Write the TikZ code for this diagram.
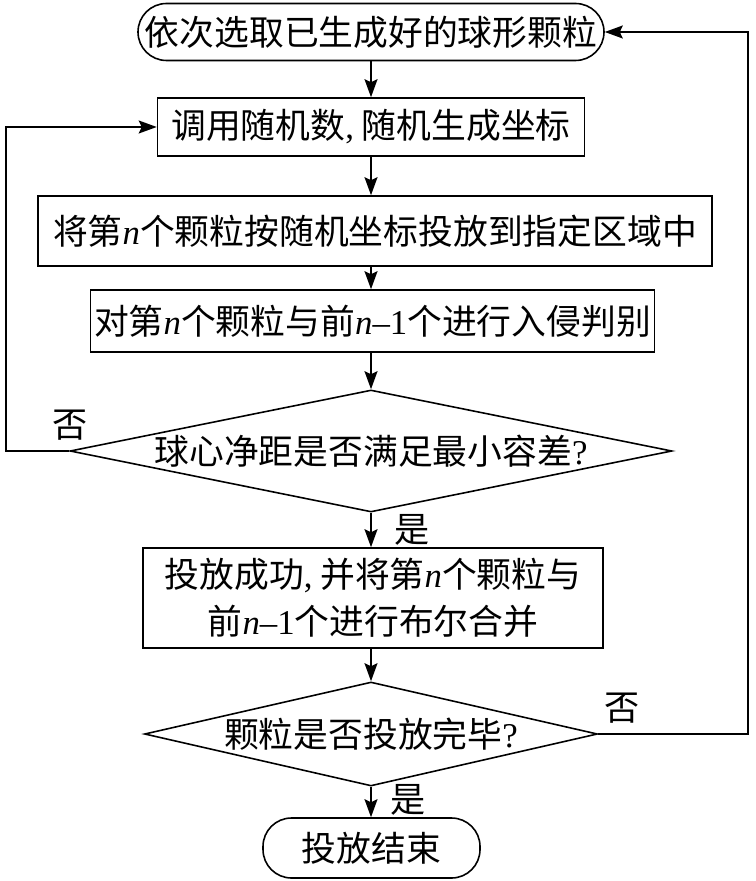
\documentclass[tikz,border=0pt]{standalone}
\usepackage{fontspec}
\setmainfont{Noto Sans CJK SC}
\newfontfamily\latinfont{Liberation Serif}
\usetikzlibrary{shapes.geometric,arrows.meta}
\newcommand{\vn}{{\latinfont\itshape n}}
\newcommand{\lt}[1]{{\latinfont #1}}
\tikzset{
  box/.style={draw,line width=0.9pt,minimum height=1.16cm,inner sep=2pt},
  term/.style={box,rounded corners=0.57cm},
  cond/.style={draw,line width=0.9pt,diamond,aspect=4.9,inner sep=0pt},
  flow/.style={line width=0.9pt,-{Stealth[length=3.6mm,width=2.6mm,inset=0.6mm]}},
  lab/.style={font=\fontsize{20}{24}\selectfont}
}
\begin{document}
\begin{tikzpicture}[font=\fontsize{19.8}{27}\selectfont]
\useasboundingbox (0,0) rectangle (15.1,-17.62);
\node[term,minimum width=9.32cm,minimum height=1.14cm](start)at(7.42,-0.64){依次选取已生成好的球形颗粒};
\node[box,minimum width=8.54cm](coord)at(7.42,-2.54){调用随机数\lt{,} 随机生成坐标};
\node[box,minimum width=13.48cm,minimum height=1.4cm](place)at(7.5,-4.62){将第\vn 个颗粒按随机坐标投放到指定区域中};
\node[box,minimum width=11.22cm,minimum height=1.24cm](check)at(7.45,-6.42){对第\vn 个颗粒与前\vn\lt{–1}个进行入侵判别};
\node[cond,minimum width=12.04cm,minimum height=2.44cm](gap)at(7.42,-9.02){球心净距是否满足最小容差\lt{?}};
\node[box,minimum width=9.2cm,minimum height=2cm,align=center](merge)at(7.46,-11.96){投放成功\lt{,} 并将第\vn 个颗粒与\\前\vn\lt{–1}个进行布尔合并};
\node[cond,minimum width=9.06cm,minimum height=2.08cm](done)at(7.42,-14.68){颗粒是否投放完毕\lt{?}};
\node[term,minimum width=4.34cm,minimum height=1.2cm](stop)at(7.43,-16.96){投放结束};
% main flow
\draw[flow](start)--(start|-coord.north);
\draw[flow](coord)--(coord|-place.north);
\draw[flow](start|-place.south)--(start|-check.north);
\draw[flow](start|-check.south)--(gap);
\draw[flow](gap)--(gap|-merge.north);
\draw[flow](gap|-merge.south)--(done);
\draw[flow](done)--(done|-stop.north);
% loops back
\draw[flow](gap.west)-|(0.12,-2.54)--(coord.west);
\draw[flow](done.east)-|(14.96,-0.64)--(start.east);
\node[lab](no1)at(1.4,-8.5){否};
\node[lab](yes1)at(8.24,-10.6){是};
\node[lab](no2)at(12.44,-14.16){否};
\node[lab](yes2)at(8.16,-16.0){是};
\end{tikzpicture}
\end{document}
